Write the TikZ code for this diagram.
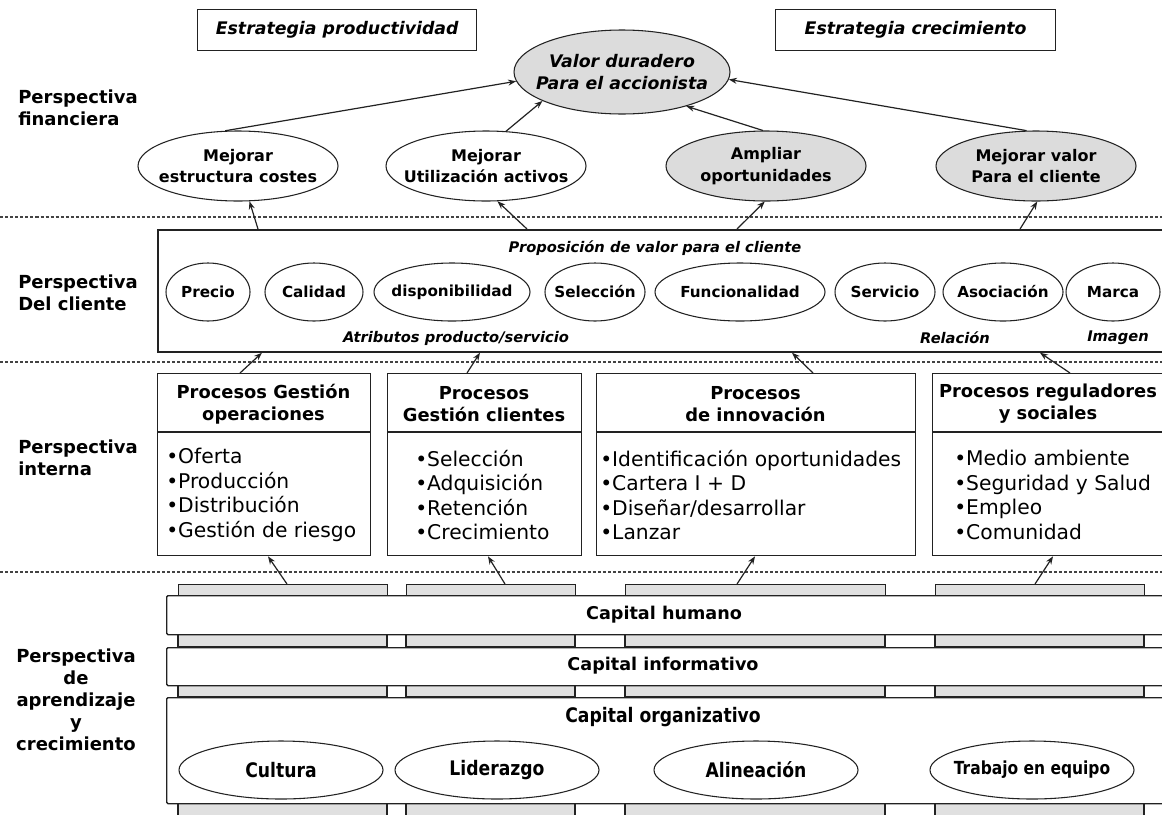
\documentclass[tikz,border=0pt]{standalone}
\usepackage{fontspec}
\setmainfont{DejaVu Sans}
\newfontfamily\condfont[FakeStretch=0.86]{DejaVu Sans}
\usetikzlibrary{arrows.meta,shapes.geometric,calc}
\definecolor{ink}{HTML}{222222}
\definecolor{ellgray}{HTML}{DCDCDC}
\definecolor{tabgray}{HTML}{E0E0E0}
\newcommand{\fsz}[2]{\fontsize{#1}{#2}\selectfont}
\begin{document}
\begin{tikzpicture}[x=0.75pt,y=-0.75pt,
  every node/.style={inner sep=0pt},
  rbox/.style n args={2}{draw=ink, line width=1pt, rectangle, minimum width=#1*0.75pt, minimum height=#2*0.75pt, anchor=north west},
  ell/.style n args={2}{draw=ink, line width=0.8pt, ellipse, minimum width=#1*1.5pt, minimum height=#2*1.5pt},
  tabbox/.style n args={2}{draw=ink, line width=1pt, fill=tabgray, rectangle, minimum width=#1*0.75pt, minimum height=#2*0.75pt, anchor=north west},
  barbox/.style n args={2}{draw=ink, line width=1pt, fill=white, rectangle, rounded corners=1pt, minimum width=#1*0.75pt, minimum height=#2*0.75pt, anchor=north west},
  persp/.style={font=\bfseries\fsz{13.5}{16.5}, align=left, anchor=west},
  strat/.style={font=\bfseries\itshape\fsz{13}{16}},
  valtxt/.style={font=\bfseries\itshape\fsz{13}{17}, align=center},
  fintxt/.style={font=\bfseries\fsz{12}{16}, align=center},
  custtxt/.style={font=\bfseries\fsz{11.4}{14}},
  note/.style={font=\bfseries\itshape\fsz{11}{13}},
  head/.style={font=\bfseries\fsz{13.4}{16.5}, align=center},
  items/.style={font=\fsz{15.2}{18.4}, align=left, anchor=west},
  captxt/.style={font=\bfseries\fsz{13.2}{16}},
  orgtxt/.style={font=\condfont\bfseries\fsz{15}{17}},
  sep/.style={draw=ink!85, line width=1pt, dash pattern=on 2.3pt off 1.5pt},
  arr/.style={draw=ink, line width=0.9pt, -{Stealth[length=6pt,width=4.5pt]}},
  hline/.style={draw=ink, line width=1pt}
]
\useasboundingbox (0,0) rectangle (1162,814);
\clip (0,0) rectangle (1162,814);
\fill[white] (0,0) rectangle (1162,814);

% ---------- separators
\draw[sep] (0,217) -- (1162,217);
\draw[sep] (0,362) -- (1162,362);
\draw[sep] (0,572) -- (1162,572);

% ---------- left labels
\node[persp] (lf) at (18,108) {Perspectiva\\financiera};
\node[persp] (lc) at (18,293) {Perspectiva\\Del cliente};
\node[persp] (li) at (18,458) {Perspectiva\\interna};
\node[persp, align=center, anchor=center] (la) at (76,700) {Perspectiva\\de\\aprendizaje\\y\\crecimiento};

% ---------- financial perspective
\node[rbox={279}{41}, strat] (ep) at (197,9) {Estrategia productividad};
\node[rbox={280}{41}, strat] (ec) at (775,9) {Estrategia crecimiento};

\node[ell={108}{42}, fill=ellgray] (valor) at (622,72) {};
\node[valtxt] (valort) at (valor) {Valor duradero\\Para el accionista};

\node[ell={100}{35}] (fc1) at (238,166) {};
\node[fintxt] (fc1t) at (fc1) {Mejorar\\estructura costes};
\node[ell={100}{35}] (fc2) at (486,166) {};
\node[fintxt] (fc2t) at (fc2) {Mejorar\\Utilización activos};
\node[ell={100}{35}, fill=ellgray] (fc3) at (766,166) {};
\node[fintxt] (fc3t) at (fc3) {Ampliar\\oportunidades};
\node[ell={100}{35}, fill=ellgray] (fc4) at (1036,166) {};
\node[fintxt] (fc4t) at (fc4) {Mejorar valor\\Para el cliente};

\draw[arr] (fc1.110) -- (valor.185);
\draw[arr] (fc2.60) -- (valor.200);
\draw[arr] (fc3.95) -- (valor.-28);
\draw[arr] (fc4.105) -- (valor.-4);

% ---------- customer perspective
\node[rbox={1020}{122}, line width=1.3pt] (cust) at (157,229) {};
\node[note] (prop) at (655,248) {Proposición de valor para el cliente};

\node[ell={42}{29}] (e1) at (208,292) {};
\node[custtxt] (e1t) at (e1) {Precio};
\node[ell={49}{29}] (e2) at (314,292) {};
\node[custtxt] (e2t) at (e2) {Calidad};
\node[ell={78}{29}] (e3) at (452,292) {};
\node[custtxt] (e3t) at (e3) {disponibilidad};
\node[ell={50}{29}] (e4) at (595,292) {};
\node[custtxt] (e4t) at (e4) {Selección};
\node[ell={85}{29}] (e5) at (740,292) {};
\node[custtxt] (e5t) at (e5) {Funcionalidad};
\node[ell={50}{29}] (e6) at (885,292) {};
\node[custtxt] (e6t) at (e6) {Servicio};
\node[ell={60}{29}] (e7) at (1003,292) {};
\node[custtxt] (e7t) at (e7) {Asociación};
\node[ell={47}{29}] (e8) at (1113,292) {};
\node[custtxt] (e8t) at (e8) {Marca};

\node[note] (attr) at (456,338) {Atributos producto/servicio};
\node[note] (rel) at (955,338) {Relación};
\node[note] (img) at (1118,338) {Imagen};

\draw[arr] ($(cust.north west)+(101,0)$) -- (fc1.-72);
\draw[arr] ($(cust.north west)+(370,0)$) -- (fc2.-72);
\draw[arr] ($(cust.north west)+(580,0)$) -- (fc3.-92);
\draw[arr] ($(cust.north west)+(863,0)$) -- (fc4.-88);

% ---------- internal perspective
\node[rbox={213}{182}] (p1) at (157,373) {};
\node[rbox={194}{182}] (p2) at (387,373) {};
\node[rbox={319}{182}] (p3) at (596,373) {};
\node[rbox={240}{182}] (p4) at (932,373) {};
\foreach \p in {p1,p2,p3,p4}{
  \draw[hline] ($(\p.north west)+(0,59)$) -- ($(\p.north east)+(0,59)$);
}
\node[head] (h1) at (263.5,404) {Procesos Gestión\\operaciones};
\node[head] (h2) at (484,404) {Procesos\\Gestión clientes};
\node[head] (h3) at (755.5,404) {Procesos\\de innovación};
\node[head] (h4) at (1048,404) {Procesos reguladores\\y sociales};

\node[items] (i1) at (166,495) {•Oferta\\•Producción\\•Distribución\\•Gestión de riesgo};
\node[items] (i2) at (415,495) {•Selección\\•Adquisición\\•Retención\\•Crecimiento};
\node[items] (i3) at (600,495) {•Identificación oportunidades\\•Cartera I + D\\•Diseñar/desarrollar\\•Lanzar};
\node[items] (i4) at (954,495) {•Medio ambiente\\•Seguridad y Salud\\•Empleo\\•Comunidad};

\draw[arr] ($(p1.north west)+(83,0)$) -- ($(cust.south west)+(105,0)$);
\draw[arr] ($(p2.north west)+(80,0)$) -- ($(cust.south west)+(323,0)$);
\draw[arr] ($(p3.north west)+(217,0)$) -- ($(cust.south west)+(635,0)$);
\draw[arr] ($(p4.north west)+(138,0)$) -- ($(cust.south west)+(883,0)$);

% ---------- learning and growth
\node[tabbox={209}{12}] (t1) at (178,584) {};
\node[tabbox={169}{12}] (t2) at (406,584) {};
\node[tabbox={260}{12}] (t3) at (625,584) {};
\node[tabbox={209}{12}] (t4) at (935,584) {};
\foreach \ya/\yb in {634/647, 685/697, 802/830}{
  \foreach \xa/\xb in {178/387, 406/575, 625/885, 935/1144}{
    \draw[draw=ink, line width=1pt, fill=tabgray] (\xa,\ya) rectangle (\xb,\yb);
  }
}
\node[barbox={1010}{39}] (hum) at (166,595) {};
\node[captxt] (humt) at (664,615) {Capital humano};
\node[barbox={1010}{38}] (inf) at (166,647) {};
\node[captxt] (inft) at (663,666) {Capital informativo};
\node[barbox={1010}{106}] (org) at (166,697) {};
\node[orgtxt] (orgt) at (663,717) {Capital organizativo};

\node[ell={102}{29}] (b1) at (281,770) {};
\node[orgtxt] (b1t) at (b1) {Cultura};
\node[ell={102}{29}] (b2) at (497,770) {};
\node[orgtxt] (b2t) at (b2) {Liderazgo};
\node[ell={102}{29}] (b3) at (756,770) {};
\node[orgtxt] (b3t) at (b3) {Alineación};
\node[ell={102}{29}] (b4) at (1032,770) {};
\node[orgtxt, font=\condfont\bfseries\fsz{13.5}{15}] (b4t) at (b4) {Trabajo en equipo};

\draw[arr] ($(t1.north west)+(109,0)$) -- ($(p1.south west)+(111,0)$);
\draw[arr] ($(t2.north west)+(99,0)$) -- ($(p2.south west)+(101,0)$);
\draw[arr] ($(t3.north west)+(112,0)$) -- ($(p3.south west)+(159,0)$);
\draw[arr] ($(t4.north west)+(100,0)$) -- ($(p4.south west)+(121,0)$);
\end{tikzpicture}
\end{document}
